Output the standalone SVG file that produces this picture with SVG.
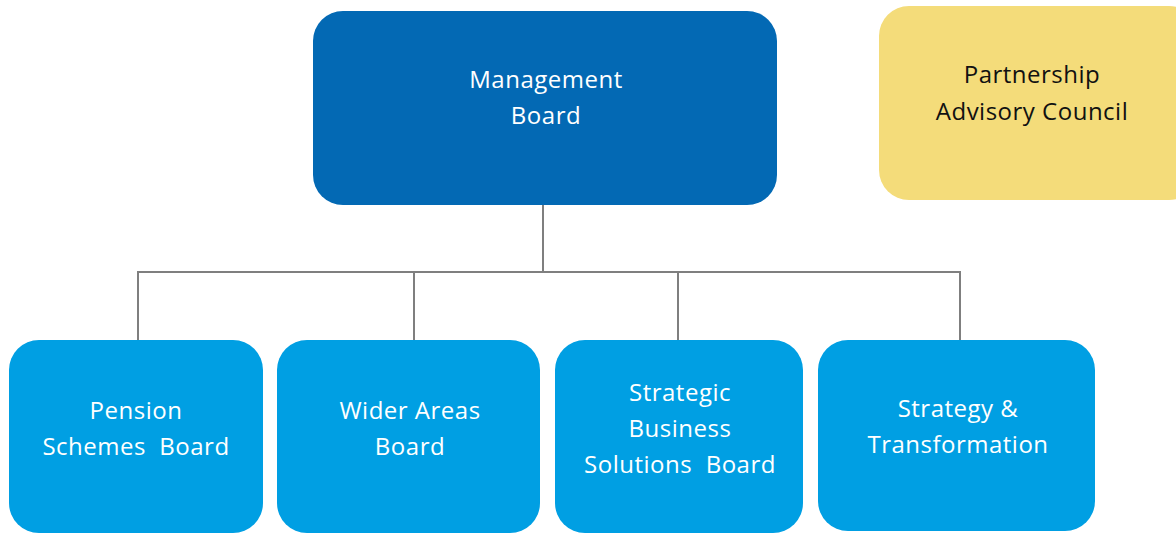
<svg xmlns="http://www.w3.org/2000/svg" width="1176" height="534" viewBox="0 0 1176 534">
  <style>
    .lbl { font-family: "Open Sans", "Noto Sans", "DejaVu Sans", sans-serif; font-size: 24px; letter-spacing: 0.5px; text-anchor: middle; white-space: pre; }
    .light { fill: #ffffff; }
    .dark { fill: #111111; }
    .main { fill: #0369B4; }
    .sub { fill: #009FE3; }
    .side { fill: #F4DC7A; }
    .conn { fill: none; stroke: #7F7F7F; stroke-width: 2; }
  </style>
  <rect width="1176" height="534" fill="#ffffff"/>

  <!-- connectors -->
  <g id="connectors">
    <path class="conn" d="M543 205 V272"/>
    <path class="conn" d="M138 340 V272 H960 V340"/>
    <path class="conn" d="M414 272 V340"/>
    <path class="conn" d="M678 272 V340"/>
  </g>

  <!-- management board -->
  <g id="management-board">
    <rect class="main" x="313" y="11" width="464" height="194" rx="30"/>
    <text class="lbl light" x="546" y="88">Management</text>
    <text class="lbl light" x="546" y="124">Board</text>
  </g>

  <!-- advisory council -->
  <g id="partnership-advisory-council">
    <rect class="side" x="879" y="6" width="320" height="194" rx="30"/>
    <text class="lbl dark" x="1032" y="83">Partnership</text>
    <text class="lbl dark" x="1032" y="120">Advisory Council</text>
  </g>

  <!-- boards -->
  <g id="pension-schemes-board">
    <rect class="sub" x="9" y="340" width="254" height="193" rx="30"/>
    <text class="lbl light" x="136" y="419">Pension</text>
    <text class="lbl light" x="136" y="455" xml:space="preserve">Schemes  Board</text>
  </g>

  <g id="wider-areas-board">
    <rect class="sub" x="277" y="340" width="263" height="193" rx="30"/>
    <text class="lbl light" x="410" y="419">Wider Areas</text>
    <text class="lbl light" x="410" y="455">Board</text>
  </g>

  <g id="strategic-business-solutions-board">
    <rect class="sub" x="555" y="340" width="248" height="193" rx="30"/>
    <text class="lbl light" x="680" y="401">Strategic</text>
    <text class="lbl light" x="680" y="437">Business</text>
    <text class="lbl light" x="680" y="473" xml:space="preserve">Solutions  Board</text>
  </g>

  <g id="strategy-transformation">
    <rect class="sub" x="818" y="340" width="277" height="191" rx="30"/>
    <text class="lbl light" x="958" y="417">Strategy &amp;</text>
    <text class="lbl light" x="958" y="453">Transformation</text>
  </g>
</svg>
